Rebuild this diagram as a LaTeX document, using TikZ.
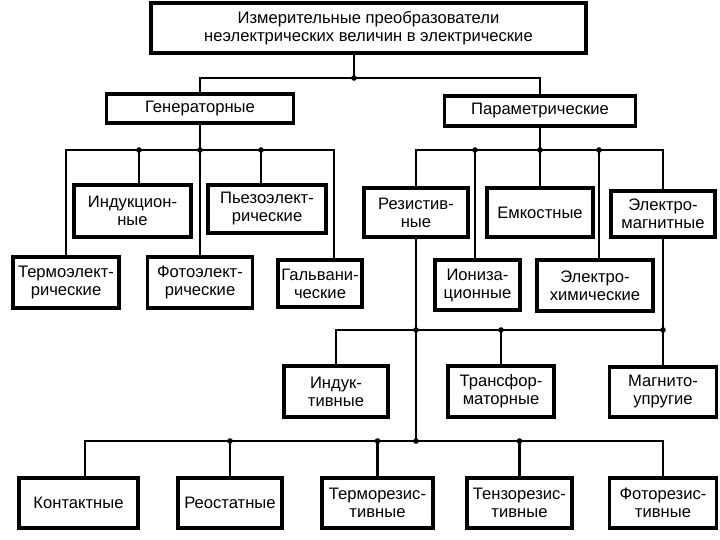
\documentclass[tikz,border=0pt]{standalone}
\usepackage{fontspec}
\setmainfont{Liberation Sans}
\usetikzlibrary{calc}

\begin{document}
\begin{tikzpicture}[
  x=0.5pt, y=-0.5pt,
  font=\fontsize{8.3}{9}\selectfont,
  box/.style={
    draw, line width=1.6pt, align=center, inner sep=1pt
  },
  ln/.style={line width=1.3pt, line cap=rect},
  jdot/.style={fill=black}
]
\useasboundingbox (0,0) rectangle (720,540);

% =============================================================
% top + first level
% =============================================================
\node[box, minimum width=217.5pt, minimum height=25pt] (top) at (368.5,28)
   {Измерительные преобразователи\\неэлектрических величин в электрические};

\node[box, minimum width=93.5pt, minimum height=14.5pt] (gen) at (200,108.5)
   {Генераторные};
\node[box, minimum width=95.5pt, minimum height=15pt] (par) at (540,111)
   {Параметрические};

% =============================================================
% generator group
% =============================================================
\node[box, minimum width=53pt, minimum height=25.5pt] (termo) at (66,282.5)
   {Термоэлект-\\рические};
\node[box, minimum width=58.5pt, minimum height=26pt] (ind) at (132.5,211)
   {Индукцион-\\ные};
\node[box, minimum width=52.5pt, minimum height=25.5pt] (foto) at (200,282.5)
   {Фотоэлект-\\рические};
\node[box, minimum width=59pt, minimum height=24pt] (pz) at (267,209)
   {Пьезоэлект-\\рические};
\node[box, minimum width=42pt, minimum height=23.5pt] (galv) at (320,283.5)
   {Гальвани-\\ческие};

% =============================================================
% parametric group
% =============================================================
\node[box, minimum width=52pt, minimum height=24.5pt] (rez) at (416,212.5)
   {Резистив-\\ные};
\node[box, minimum width=53pt, minimum height=24.5pt] (emk) at (540,212.5)
   {Емкостные};
\node[box, minimum width=52pt, minimum height=23pt] (elmag) at (663,214)
   {Электро-\\магнитные};
\node[box, minimum width=42.5pt, minimum height=25pt] (ion) at (477.5,285)
   {Иониза-\\ционные};
\node[box, minimum width=58pt, minimum height=25.5pt] (him) at (595,285.5)
   {Электро-\\химические};

% electromagnetic subgroup
\node[box, minimum width=52pt, minimum height=25.5pt] (induct) at (336,391.5)
   {Индук-\\тивные};
\node[box, minimum width=53pt, minimum height=25.5pt] (tr) at (501,391.5)
   {Трансфор-\\маторные};
\node[box, minimum width=53.5pt, minimum height=25pt] (mag) at (663,392)
   {Магнито-\\упругие};

% resistive subgroup
\node[box, minimum width=59.5pt, minimum height=25pt] (kont) at (78.5,503)
   {Контактные};
\node[box, minimum width=52pt, minimum height=25pt] (reo) at (230,503)
   {Реостатные};
\node[box, minimum width=55.5pt, minimum height=25pt] (trz) at (377.5,503)
   {Терморезис-\\тивные};
\node[box, minimum width=52.5pt, minimum height=25pt] (tnz) at (519.5,503)
   {Тензорезис-\\тивные};
\node[box, minimum width=53.5pt, minimum height=25pt] (frz) at (663,503)
   {Фоторезис-\\тивные};

% =============================================================
% connectors
% =============================================================
\coordinate (j0) at (354,78);
\coordinate (bus) at (0,150);
\coordinate (mbus) at (0,330);
\coordinate (bbus) at (0,441);
\coordinate (dind) at (139,150);
\coordinate (dpz) at (261,150);
\coordinate (dgal) at (334,150);
\coordinate (dion) at (475,150);
\coordinate (dhim) at (599,150);
\coordinate (dk) at (85,441);

% top -> two branches
\draw[ln] (top.south -| j0) -- (j0);
\draw[ln] (gen.north) |- (j0) -| (par.north);

% generator bus
\draw[ln] (gen.south) -- (foto.north);
\draw[ln] (termo.north) |- (dgal) -- (dgal |- galv.north);
\draw[ln] (dind) -- (dind |- ind.north);
\draw[ln] (dpz) -- (dpz |- pz.north);

% parametric bus
\draw[ln] (par.south) -- (emk.north);
\draw[ln] (rez.north) |- (elmag.north |- bus) -- (elmag.north);
\draw[ln] (dion) -- (dion |- ion.north);
\draw[ln] (dhim) -- (dhim |- him.north);

% electromagnetic bus
\draw[ln] (elmag.south) -- (mag.north);
\draw[ln] (induct.north) |- (elmag.south |- mbus);
\draw[ln] (tr.north) -- (tr.north |- mbus);

% resistive bus
\draw[ln] (rez.south) -- (rez.south |- bbus);
\draw[ln] (dk |- kont.north) |- (frz.north |- bbus) -- (frz.north);
\draw[ln] (reo.north) -- (reo.north |- bbus);
\draw[ln] (trz.north) -- (trz.north |- bbus);
\draw[ln] (tnz.north) -- (tnz.north |- bbus);

% junction dots
\foreach \p in {j0, dind, dpz, dion, dhim}
  \fill[jdot] (\p) circle (1.4pt);
\fill[jdot] (gen.south |- bus) circle (1.4pt);
\fill[jdot] (par.south |- bus) circle (1.4pt);
\fill[jdot] (rez.south |- mbus) circle (1.4pt);
\fill[jdot] (tr.north |- mbus) circle (1.4pt);
\fill[jdot] (mag.north |- mbus) circle (1.4pt);
\fill[jdot] (rez.south |- bbus) circle (1.4pt);
\fill[jdot] (reo.north |- bbus) circle (1.4pt);
\fill[jdot] (trz.north |- bbus) circle (1.4pt);
\fill[jdot] (tnz.north |- bbus) circle (1.4pt);

\end{tikzpicture}
\end{document}
